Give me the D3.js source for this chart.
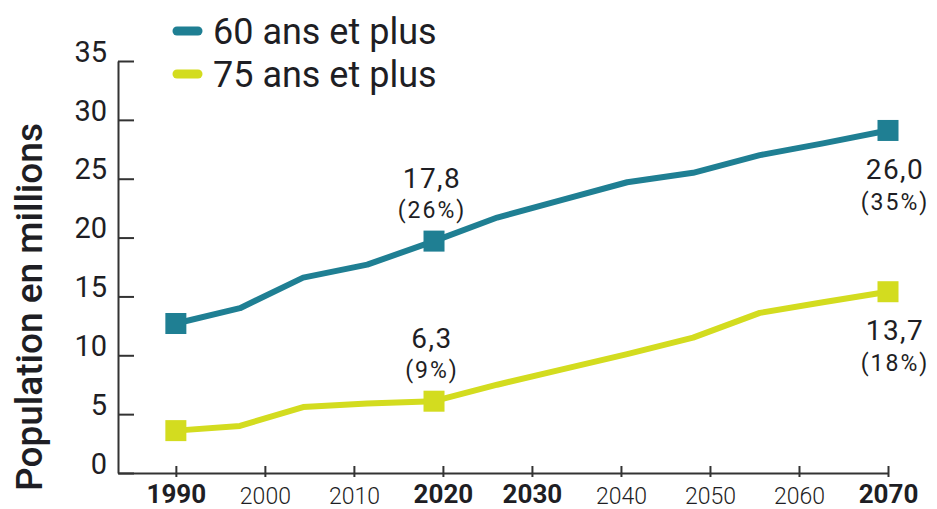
<!DOCTYPE html>
<html>
<head>
<meta charset="utf-8">
<script src="https://cdn.jsdelivr.net/npm/d3@7"></script>
<style>
  body { margin: 0; background: #fff; }
  text { font-family: Roboto, "Liberation Sans", sans-serif; fill: #1e1e24; }
</style>
</head>
<body>
<svg id="chart" width="937" height="509"></svg>
<script>
// values (millions)
const years  = [1990, 1997.2, 2004.3, 2011.5, 2019, 2026.1, 2033.4, 2040.7, 2048.1, 2055.6, 2062.7, 2070]
const plus60 = [12.7, 14.0, 16.6, 17.7, 19.7, 21.7, 23.2, 24.7, 25.5, 27.0, 28.0, 29.1]
const plus75 = [3.6, 4.0, 5.6, 5.9, 6.1, 7.5, 8.8, 10.1, 11.5, 13.6, 14.5, 15.4]
const markerIdx = [0, 4, 11]

const seriesNames = ['60 ans et plus', '75 ans et plus']
const seriesColors = ['#1f7f93', '#d3dc1f']

const xTicks = [1990, 2000, 2010, 2020, 2030, 2040, 2050, 2060, 2070]
const boldTicks = [1990, 2020, 2030, 2070]
const yTicks = [0, 5, 10, 15, 20, 25, 30, 35]

// annotations: [index in years, value text, share text, above?]
const notes60 = [[4, '17,8', '(26%)', true], [11, '26,0', '(35%)', false]]
const notes75 = [[4, '6,3', '(9%)', true], [11, '13,7', '(18%)', false]]

let svg = d3.select('#chart')

let x = d3.scaleLinear()
  .domain([1983.5, 2070])
  .range([118, 888])

let y = d3.scaleLinear()
  .domain([0, 35])
  .range([473, 61])

// y axis, ticks pointing inwards
let yAxis = svg.append('g')
  .attr('transform', 'translate(' + x(1983.5) + ',0)')
  .call(d3.axisLeft(y).tickValues(yTicks).tickSize(-16).tickSizeOuter(0).tickPadding(11))
yAxis.select('.domain').attr('stroke', '#333').attr('stroke-width', 2)
yAxis.selectAll('.tick line').attr('stroke', '#333').attr('stroke-width', 2)
yAxis.selectAll('.tick text')
  .attr('y', -9)
  .style('font-size', '29px')
  .style('font-weight', 400)
  .style('fill', '#1e1e24')

// x axis
let xAxis = svg.append('g')
  .attr('transform', 'translate(0,' + y(0) + ')')
  .call(d3.axisBottom(x).tickValues(xTicks).tickSize(4).tickSizeOuter(0).tickFormat(d3.format('d')))
xAxis.select('.domain').attr('stroke', '#333').attr('stroke-width', 2)
xAxis.selectAll('.tick line').attr('y1', -7).attr('stroke', '#333').attr('stroke-width', 2)
xAxis.selectAll('.tick text')
  .attr('y', d => boldTicks.includes(d) ? 12 : 15)
  .style('font-size', d => boldTicks.includes(d) ? '26px' : '23px')
  .style('font-weight', d => boldTicks.includes(d) ? 700 : 300)
  .style('fill', '#1e1e24')

// axis title
svg.append('text')
  .attr('transform', 'translate(42,307) rotate(-90)')
  .attr('text-anchor', 'middle')
  .style('font-size', '37px')
  .style('font-weight', 500)
  .text('Population en millions')

let line = d3.line()
  .x(d => x(d[0]))
  .y(d => y(d[1]))

let series = [plus60, plus75].map((vals, i) => ({
  name: seriesNames[i],
  color: seriesColors[i],
  points: years.map((yr, j) => [yr, vals[j]]),
  notes: i == 0 ? notes60 : notes75
}))

let groups = svg.selectAll('g.series')
  .data(series)
  .enter()
  .append('g')
  .attr('class', 'series')

groups.append('path')
  .attr('d', d => line(d.points))
  .attr('fill', 'none')
  .attr('stroke', d => d.color)
  .attr('stroke-width', 6)
  .attr('stroke-linejoin', 'round')

let size = 21
groups.selectAll('rect')
  .data(d => markerIdx.map(k => ({p: d.points[k], color: d.color})))
  .enter()
  .append('rect')
  .attr('x', d => x(d.p[0]) - size / 2)
  .attr('y', d => y(d.p[1]) - size / 2)
  .attr('width', size)
  .attr('height', size)
  .attr('fill', d => d.color)

// value labels
groups.each(function (d) {
  let g = d3.select(this)
  d.notes.forEach(n => {
    let pt = d.points[n[0]]
    let cx = x(pt[0]) + (n[3] ? -2 : 7)
    let cy = y(pt[1])
    g.append('text')
      .attr('x', cx)
      .attr('y', cy + (n[3] ? -63 : 38))
      .attr('dy', '0.36em')
      .attr('text-anchor', 'middle')
      .style('font-size', '28px')
      .style('font-weight', 400)
      .style('letter-spacing', '1.5px')
      .text(n[1])
    g.append('text')
      .attr('x', cx)
      .attr('y', cy + (n[3] ? -31 : 71))
      .attr('dy', '0.36em')
      .attr('text-anchor', 'middle')
      .style('font-size', '23px')
      .style('font-weight', 400)
      .style('letter-spacing', '2px')
      .text(n[2])
  })
})

// legend
let legend = svg.selectAll('g.legend')
  .data(series)
  .enter()
  .append('g')
  .attr('class', 'legend')
  .attr('transform', (d, i) => 'translate(0,' + (31 + i * 43) + ')')

legend.append('line')
  .attr('x1', 177).attr('x2', 198)
  .attr('stroke', d => d.color)
  .attr('stroke-width', 9)
  .attr('stroke-linecap', 'round')

legend.append('text')
  .attr('x', 213)
  .attr('dy', '0.36em')
  .style('font-size', '36px')
  .text(d => d.name)
</script>
</body>
</html>
